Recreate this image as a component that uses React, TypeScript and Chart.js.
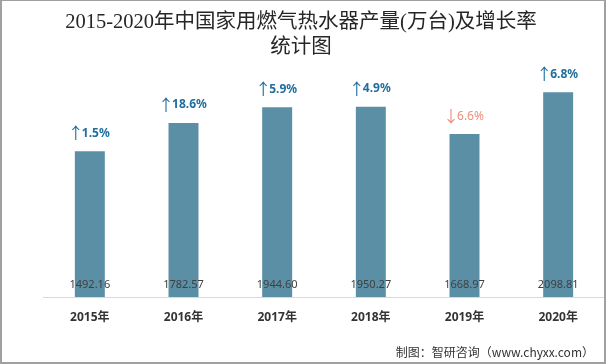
import React, { useEffect, useRef } from "react";
import { Chart, registerables } from "chart.js";

Chart.register(...registerables);

const categories = ["2015年", "2016年", "2017年", "2018年", "2019年", "2020年"];
const output = [1492.16, 1782.57, 1944.6, 1950.27, 1668.97, 2098.81];
const growth = [1.5, 18.6, 5.9, 4.9, -6.6, 6.8];
const titleLines = ["2015-2020年中国家用燃气热水器产量(万台)及增长率", "统计图"];
const sourceText = "制图：智研咨询（www.chyxx.com）";

const BAR = "#5b8fa6";
const UP = "#1f6f9e";
const DOWN = "#f0907e";
const SANS = "'Noto Sans', 'Noto Sans CJK SC', sans-serif";

export default function App() {
  const ref = useRef<HTMLCanvasElement | null>(null);
  useEffect(() => {
    const canvas = ref.current!;
    const plugin = {
      id: "custom",
      afterDatasetsDraw(chart: any) {
        const ctx = chart.ctx;
        const meta = chart.getDatasetMeta(0);
        const xs = chart.scales.x;
        const ys = chart.scales.y;
        ctx.save();
        ctx.textBaseline = "middle";
        meta.data.forEach((bar: any, i: number) => {
          ctx.textAlign = "center";
          // value inside bar bottom
          ctx.font = "11px " + SANS;
          ctx.fillStyle = "#404040";
          ctx.fillText(output[i].toFixed(2), bar.x, ys.getPixelForValue(0) - 12);
          // category label
          ctx.font = "bold 12px " + SANS;
          ctx.fillStyle = "#333333";
          ctx.fillText(categories[i], xs.getPixelForValue(i), 318);
          // growth label: arrow + number
          const g = growth[i];
          const up = g >= 0;
          const arrow = up ? "↑" : "↓";
          const num = Math.abs(g).toFixed(1) + "%";
          const arrowFont = "16px 'Noto Sans CJK SC', sans-serif";
          const numFont = (up ? "bold " : "") + "12px " + SANS;
          ctx.font = arrowFont;
          const wa = ctx.measureText(arrow).width * 0.75;
          ctx.font = numFont;
          const wn = ctx.measureText(num).width;
          const x0 = bar.x - (wa + wn) / 2;
          const y = bar.y - 18;
          ctx.fillStyle = up ? UP : DOWN;
          ctx.textAlign = "left";
          ctx.font = arrowFont;
          ctx.fillText(arrow, x0 - 2, y);
          ctx.font = numFont;
          ctx.fillText(num, x0 + wa, y);
        });
        // title
        ctx.textAlign = "center";
        ctx.font = "20.5px 'Liberation Serif', 'Noto Sans CJK SC', serif";
        ctx.fillStyle = "#262626";
        ctx.fillText(titleLines[0], 301, 23);
        ctx.fillText(titleLines[1], 301, 48);
        // source
        ctx.font = "12px 'Noto Sans CJK SC', sans-serif";
        ctx.fillStyle = "#333333";
        ctx.textAlign = "right";
        ctx.fillText(sourceText, 594, 352);
        ctx.restore();
      },
    };
    const chart = new Chart(canvas, {
      type: "bar",
      data: {
        labels: categories,
        datasets: [
          {
            data: output,
            backgroundColor: BAR,
            barPercentage: 0.32,
            categoryPercentage: 1,
          },
        ],
      },
      options: {
        animation: false,
        responsive: false,
        maintainAspectRatio: false,
        layout: { padding: { left: 43, right: 1, top: 53, bottom: 67 } },
        plugins: { legend: { display: false }, tooltip: { enabled: false }, title: { display: false } },
        scales: {
          x: {
            grid: { display: false, drawTicks: false },
            border: { display: true, color: "#d9d9d9", width: 1 },
            ticks: { display: false },
          },
          y: {
            display: false,
            min: 0,
            max: 2500,
          },
        },
      },
      plugins: [plugin],
    });
    return () => chart.destroy();
  }, []);
  return (
    <div
      style={{
        position: "absolute",
        left: 0,
        top: 0,
        width: 606,
        height: 364,
        boxSizing: "border-box",
        border: "1px solid #a0a0a0",
        borderLeftWidth: 2,
        borderRightWidth: 2,
        borderBottomWidth: 2,
        background: "#fff",
        overflow: "hidden",
      }}
    >
      <canvas ref={ref} width={606} height={364} style={{ position: "absolute", left: -2, top: -1, width: 606, height: 364 }} />
    </div>
  );
}
